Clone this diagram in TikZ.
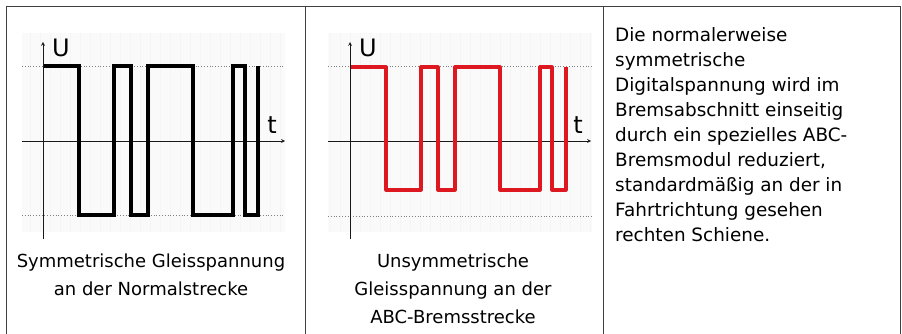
\documentclass[tikz,border=0pt]{standalone}
\usepackage{fontspec}
\setmainfont{DejaVu Sans}
\usetikzlibrary{positioning}
\definecolor{sigred}{RGB}{222,24,32}

\begin{document}
\begin{tikzpicture}[x=1pt,y=-1pt,>=stealth,
    every node/.style={inner sep=0pt},
    frame/.style={draw=black!75,line width=1pt},
    backdrop/.style={fill=black!2,draw=none},
    level/.style={draw=black!50,dotted,line width=0.8pt},
    axis/.style={draw=black!90,line width=0.7pt},
    pulses/.style={line width=3.4pt,line join=miter},
    axislabel/.style={font=\fontsize{24}{24}\selectfont},
    caption/.style={font=\fontsize{18}{28}\selectfont,align=center,anchor=north}]
      \useasboundingbox (0,0) rectangle (902,334);
      % table
      \draw[frame] (6,334) -- (6,7) -- (900,7) -- (900,334);
      \draw[frame] (305,7) -- (305,334);
      \draw[frame] (603,7) -- (603,334);
      % symmetric voltage
      \fill[backdrop] (22,33) rectangle (285,232);
      \draw[black!4,step=10] (22,33) grid (285,232);
      \draw[level] (22,66) -- (285,66);
      \draw[level] (22,215) -- (285,215);
      \draw[axis,->] (43,239) -- (43,42);
      \draw[axis,->] (22,141) -- (285,141);
      \node[axislabel] (u_sym) at (61,48) {U};
      \node[axislabel] (t_sym) at (272,125) {t};
      \draw[pulses,black] (44,66) -| (79,215) -| (114,66) -| (131,215) -| (148,66)
            -| (193,215) -| (233,66) -| (245,215) -| (258,66);
      \node[caption] (cap_sym) at (151,253.5) {Symmetrische Gleisspannung\\an der Normalstrecke};
      % asymmetric voltage
      \fill[backdrop] (328,33) rectangle (592,232);
      \draw[black!4,step=10] (328,33) grid (592,232);
      \draw[level] (328,66) -- (592,66);
      \draw[level] (328,216) -- (592,216);
      \draw[axis,->] (350,239) -- (350,42);
      \draw[axis,->] (328,141) -- (591,141);
      \node[axislabel] (u_abc) at (368,48) {U};
      \node[axislabel] (t_abc) at (578,125) {t};
      \draw[pulses,sigred,line width=3.2pt,line join=round] (351,67) -| (386,190) -| (421,67) -| (438,190) -| (455,67)
            -| (500,190) -| (540,67) -| (552,190) -| (566,67);
      \node[caption] (cap_abc) at (453,253.5) {Unsymmetrische\\Gleisspannung an der\\ABC-Bremsstrecke};
      % description
      \node[font=\fontsize{18.4}{25}\selectfont,align=left,anchor=north west] (text) at (615,27.5)
            {Die normalerweise\\symmetrische\\Digitalspannung wird im\\Bremsabschnitt einseitig\\durch ein spezielles ABC-\\Bremsmodul reduziert,\\standardmäßig an der in\\Fahrtrichtung gesehen\\rechten Schiene.};
\end{tikzpicture}
\end{document}
